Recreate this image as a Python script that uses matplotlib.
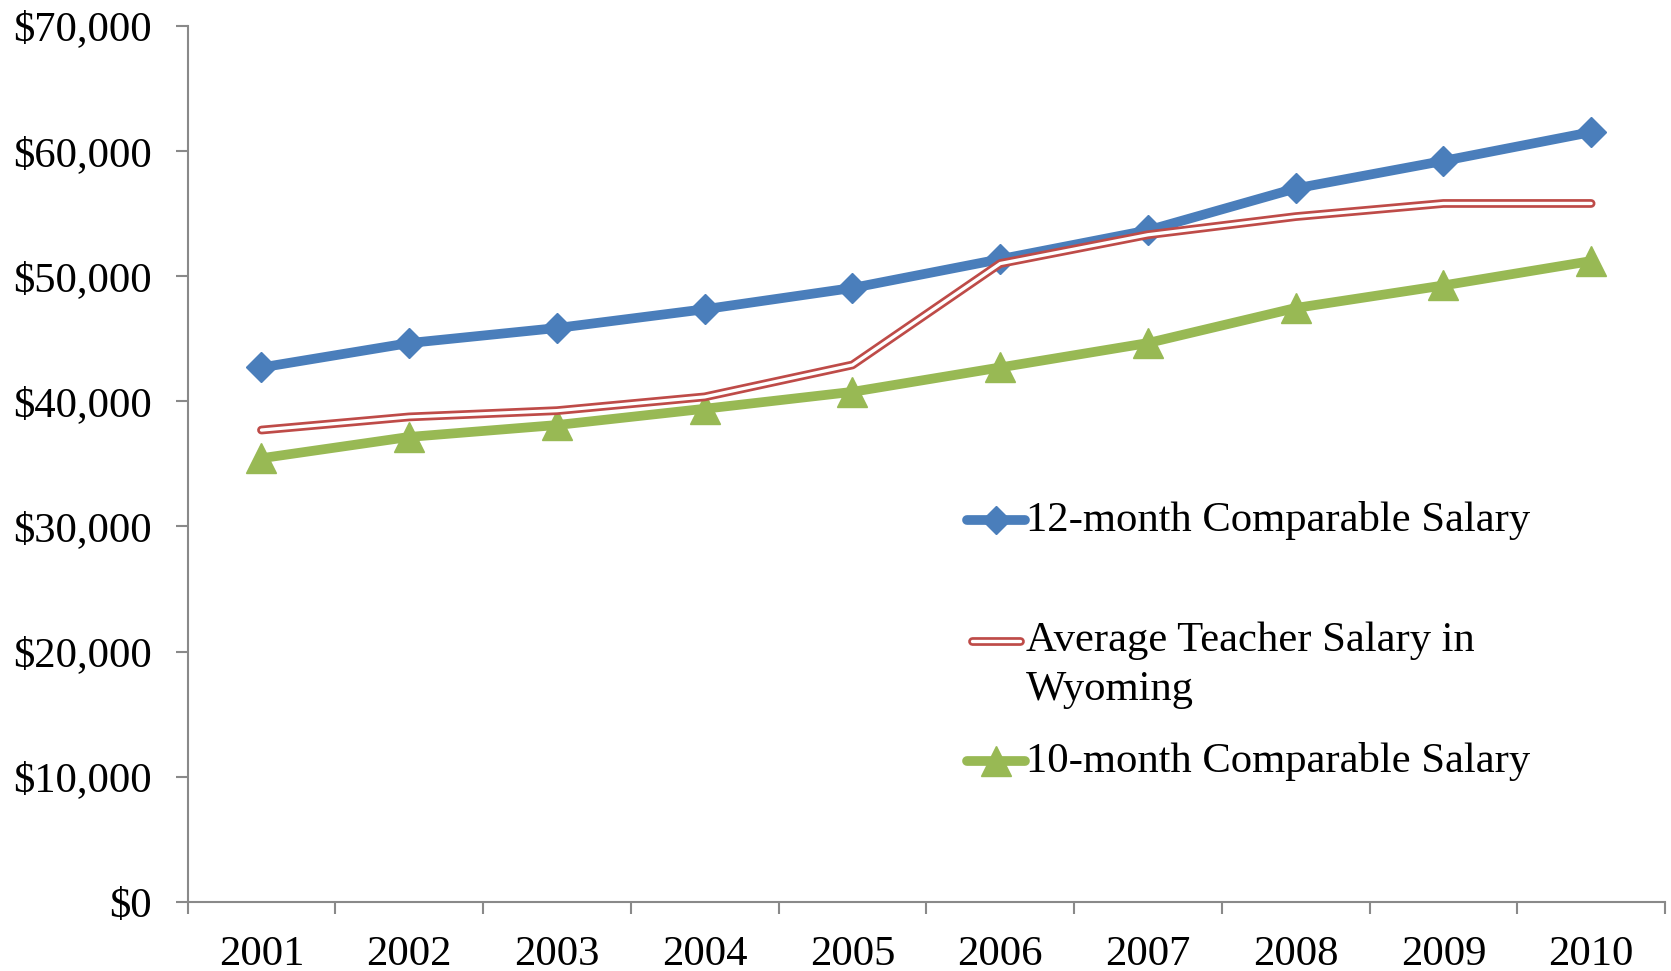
import matplotlib
matplotlib.use("Agg")
from matplotlib import pyplot as plt
from matplotlib.lines import Line2D
from matplotlib.ticker import FuncFormatter, FixedLocator

years = [2001, 2002, 2003, 2004, 2005, 2006, 2007, 2008, 2009, 2010]
salary_12_month = [42700, 44650, 45850, 47350, 49050, 51350, 53650, 57000, 59200, 61500]
salary_wyoming = [37700, 38750, 39250, 40350, 42900, 51000, 53300, 54750, 55800, 55800]
salary_10_month = [35450, 37150, 38100, 39400, 40750, 42700, 44650, 47450, 49250, 51200]

label_12 = "12-month Comparable Salary"
label_wy = "Average Teacher Salary in\nWyoming"
label_10 = "10-month Comparable Salary"

BLUE = "#4A7EBB"
RED = "#BE4B48"
GREEN = "#98B954"
AXIS_GRAY = "#898989"
FS = 30.7

plt.rcParams["font.family"] = ["Liberation Serif", "DejaVu Serif"]

W, H = 1671, 971
fig = plt.figure(figsize=(W / 100, H / 100), dpi=100)
ax = fig.add_axes([187.6 / W, 1 - 902 / H, (1665 - 187.6) / W, (902 - 25.7) / H])

# lines
ax.plot(years, salary_12_month, color=BLUE, lw=7, marker="D", ms=15.5,
        solid_joinstyle="round", clip_on=False, zorder=3)
ax.plot(years, salary_wyoming, color=RED, lw=6.3, solid_capstyle="round",
        solid_joinstyle="round", clip_on=False, zorder=4)
ax.plot(years, salary_wyoming, color="white", lw=2.4, solid_capstyle="round",
        solid_joinstyle="round", clip_on=False, zorder=4)
ax.plot(years, salary_10_month, color=GREEN, lw=7, marker="^", ms=22,
        solid_joinstyle="round", clip_on=False, zorder=3)

ax.set_xlim(2000.5, 2010.5)
ax.set_ylim(0, 70000)
ax.set_yticks(range(0, 70001, 10000))
ax.yaxis.set_major_formatter(FuncFormatter(lambda v, p: "${:,.0f}".format(v)))

ax.xaxis.set_major_locator(FixedLocator([y - 0.5 for y in years] + [2010.5]))
ax.xaxis.set_major_formatter(FuncFormatter(lambda v, p: ""))
ax.xaxis.set_minor_locator(FixedLocator(years))
ax.xaxis.set_minor_formatter(FuncFormatter(lambda v, p: str(int(round(v)))))

for s in ["top", "right"]:
    ax.spines[s].set_visible(False)
for s in ["left", "bottom"]:
    ax.spines[s].set_color(AXIS_GRAY)
    ax.spines[s].set_linewidth(1.5)

ax.tick_params(axis="both", which="major", direction="out", length=8.6,
               width=1.5, color=AXIS_GRAY, labelsize=FS)
ax.tick_params(axis="y", pad=17)
ax.tick_params(axis="x", which="minor", length=0, labelsize=FS, pad=24)

# legend drawn by hand so the handle lines up with the first text line
def legend_handle(y_px, style):
    x0, x1 = 967 / W, 1025 / W
    yf = 1 - y_px / H
    if style == "wy":
        fig.add_artist(Line2D([x0 + 0.003, x1 - 0.003], [yf, yf], color=RED, lw=6.3,
                              solid_capstyle="round", transform=fig.transFigure))
        fig.add_artist(Line2D([x0 + 0.003, x1 - 0.003], [yf, yf], color="white", lw=2.4,
                              solid_capstyle="round", transform=fig.transFigure))
    else:
        color, mk, ms = style
        fig.add_artist(Line2D([x0, x1], [yf, yf], color=color, lw=7,
                              solid_capstyle="round", transform=fig.transFigure))
        fig.add_artist(Line2D([(x0 + x1) / 2], [yf], color=color, marker=mk, ms=ms,
                              lw=0, transform=fig.transFigure))
    return yf

tx = 1026 / W
yf = legend_handle(520, (BLUE, "D", 14.5))
fig.text(tx, yf, label_12, fontsize=FS, va="center", ha="left")
yf = legend_handle(640.5, "wy")
first, second = label_wy.split("\n")
fig.text(tx, yf, first, fontsize=FS, va="center", ha="left")
fig.text(tx, 1 - 689.5 / H, second, fontsize=FS, va="center", ha="left")
yf = legend_handle(761, (GREEN, "^", 21))
fig.text(tx, yf, label_10, fontsize=FS, va="center", ha="left")

fig.savefig("out.png", dpi=100)
